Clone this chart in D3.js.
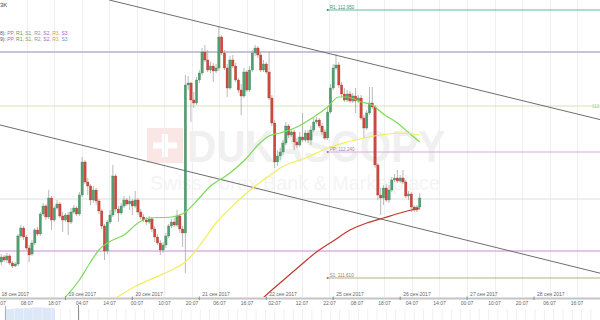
<!DOCTYPE html>
<html><head><meta charset="utf-8">
<script src="https://cdn.jsdelivr.net/npm/d3@7"></script>
<style>body{margin:0;background:#fff}svg{display:block;font-family:"Liberation Sans",Arial,sans-serif}</style>
</head><body><svg id="c" width="600" height="320"></svg>
<script>
// ---- data (hourly candles, hour index from 18 Sep 00:00, trading time) ----
const candleStartHour = 1;
const open = [111.690,111.715,111.700,111.720,111.685,111.670,111.680,111.820,111.860,111.815,
111.760,111.730,111.785,111.850,111.830,111.930,111.970,111.915,112.010,111.900,
111.960,111.980,111.920,111.900,111.925,111.890,111.940,111.960,111.930,112.025,
112.190,112.090,112.070,112.000,112.050,111.995,111.945,111.870,111.745,111.890,
111.925,112.120,111.955,111.935,111.970,112.000,111.980,111.995,111.970,112.000,
111.940,111.915,111.900,111.890,111.905,111.855,111.815,111.785,111.750,111.775,
111.820,111.870,111.890,111.875,111.920,111.855,111.835,112.575,112.585,112.500,
112.485,112.600,112.635,112.740,112.700,112.650,112.670,112.645,112.660,112.815,
112.735,112.660,112.560,112.700,112.670,112.600,112.550,112.520,112.640,112.550,
112.650,112.735,112.760,112.725,112.650,112.680,112.640,112.510,112.385,112.190,
112.220,112.240,112.285,112.370,112.325,112.340,112.290,112.275,112.315,112.300,
112.335,112.300,112.350,112.390,112.400,112.370,112.340,112.310,112.440,112.560,
112.660,112.675,112.575,112.530,112.500,112.530,112.495,112.520,112.495,112.510,
112.410,112.360,112.435,112.485,112.465,112.175,112.025,112.010,112.060,112.000,
112.050,112.100,112.110,112.095,112.110,112.090,112.020,112.030,111.965,111.950,111.965];
const close = [111.715,111.700,111.720,111.685,111.670,111.680,111.820,111.860,111.815,111.760,
111.725,111.785,111.850,111.830,111.930,111.970,111.915,112.010,111.900,111.960,
111.980,111.920,111.900,111.925,111.890,111.940,111.960,111.930,112.025,112.190,
112.090,112.070,112.000,112.050,111.995,111.945,111.870,111.745,111.890,111.925,
112.120,111.955,111.935,111.970,112.000,111.980,111.995,111.970,112.000,111.940,
111.915,111.900,111.890,111.905,111.855,111.815,111.785,111.750,111.775,111.820,
111.870,111.890,111.875,111.920,111.855,111.835,112.575,112.585,112.500,112.485,
112.600,112.635,112.740,112.700,112.650,112.670,112.645,112.660,112.815,112.735,
112.660,112.560,112.700,112.670,112.600,112.550,112.520,112.640,112.550,112.650,
112.735,112.760,112.725,112.650,112.680,112.640,112.510,112.385,112.190,112.220,
112.240,112.285,112.370,112.325,112.340,112.290,112.275,112.315,112.300,112.335,
112.300,112.350,112.390,112.400,112.370,112.340,112.310,112.440,112.560,112.660,
112.675,112.575,112.530,112.500,112.530,112.495,112.520,112.495,112.510,112.410,
112.360,112.435,112.485,112.465,112.175,112.025,112.010,112.060,112.000,112.050,
112.100,112.110,112.095,112.110,112.090,112.020,112.030,111.965,111.950,111.965,112.010];
const high = [111.730,111.725,111.735,111.730,111.695,111.690,111.830,111.875,111.870,111.825,
111.775,111.800,111.860,111.865,111.940,111.985,111.980,112.050,112.020,111.970,
112.000,111.990,111.940,111.935,111.940,111.960,111.975,111.970,112.040,112.215,
112.200,112.110,112.080,112.070,112.060,112.005,111.955,111.880,111.900,111.950,
112.175,112.130,111.970,111.985,112.020,112.010,112.020,112.005,112.045,112.010,
111.955,111.930,111.915,111.920,111.915,111.870,111.830,111.800,111.790,111.835,
111.880,111.905,111.910,111.950,111.930,111.870,112.625,112.620,112.590,112.540,
112.615,112.650,112.760,112.775,112.750,112.690,112.685,112.680,112.865,112.825,
112.750,112.680,112.720,112.725,112.685,112.610,112.580,112.660,112.650,112.670,
112.750,112.775,112.770,112.740,112.700,112.690,112.740,112.525,112.400,112.250,
112.260,112.300,112.390,112.380,112.355,112.350,112.310,112.340,112.435,112.350,
112.350,112.370,112.410,112.415,112.410,112.385,112.355,112.460,112.580,112.680,
112.730,112.690,112.590,112.560,112.550,112.545,112.535,112.560,112.525,112.525,
112.425,112.450,112.565,112.565,112.475,112.185,112.060,112.075,112.080,112.075,
112.115,112.130,112.150,112.125,112.150,112.100,112.045,112.040,111.975,111.975,112.035];
const low = [111.675,111.690,111.685,111.675,111.660,111.665,111.670,111.810,111.800,111.750,
111.690,111.720,111.775,111.820,111.820,111.920,111.900,111.905,111.850,111.890,
111.950,111.910,111.840,111.890,111.825,111.880,111.930,111.920,111.920,112.015,
112.080,112.025,111.975,111.985,111.975,111.930,111.855,111.700,111.730,111.880,
111.915,111.940,111.890,111.925,111.960,111.970,111.950,111.925,111.960,111.925,
111.900,111.890,111.875,111.880,111.840,111.790,111.775,111.725,111.735,111.760,
111.810,111.860,111.865,111.865,111.835,111.765,111.635,112.550,112.390,112.460,
112.475,112.585,112.625,112.690,112.640,112.635,112.590,112.635,112.645,112.725,
112.650,112.515,112.550,112.660,112.590,112.535,112.425,112.510,112.540,112.540,
112.640,112.720,112.710,112.640,112.640,112.630,112.500,112.370,112.160,112.170,
112.200,112.225,112.275,112.310,112.315,112.250,112.260,112.265,112.290,112.290,
112.285,112.275,112.340,112.380,112.360,112.325,112.300,112.300,112.430,112.550,
112.650,112.560,112.515,112.490,112.490,112.485,112.485,112.435,112.485,112.400,
112.310,112.350,112.425,112.455,112.160,112.000,111.925,111.975,111.990,111.985,
112.040,112.090,112.085,112.085,112.080,112.010,112.000,111.940,111.940,111.940,111.950];

const maGreenHours = [23,29,33,36,41,45,50,54,62,67,72,76,82,89,93,97,101,107,113,118,122,125,130,134,138,143,148,151];
const maGreenValues = [111.500,111.600,111.690,111.750,111.800,111.825,111.885,111.910,111.915,111.940,112.010,112.070,112.125,112.210,112.275,112.320,112.335,112.365,112.415,112.465,112.515,112.515,112.490,112.475,112.430,112.385,112.325,112.290];
const maYellowHours = [41,48,54,62,67,72,78,85,92,98,101,111,118,125,131,137,144,151];
const maYellowValues = [111.500,111.560,111.600,111.650,111.690,111.770,111.885,111.985,112.070,112.130,112.160,112.215,112.260,112.290,112.310,112.325,112.335,112.325];
const maRedHours = [94,98,103,108,114,120,126,132,138,144,151];
const maRedValues = [111.500,111.550,111.610,111.670,111.740,111.795,111.850,111.885,111.910,111.935,111.960];

const levelPrices = [112.950,112.740,112.470,112.240,112.005,111.745,111.610];
const levelNames  = ["R1","","","PP","","","S1"];
const levelStartHours = [118,0,0,118,0,0,118];

const channelUpperHours = [39.7,216], channelUpperPrices = [113.000,112.401];
const channelLowerHours = [0,216],    channelLowerPrices = [112.377,111.633];

const dateLabels = ["18 сен 2017","19 сен 2017","20 сен 2017","21 сен 2017","22 сен 2017","25 сен 2017","26 сен 2017","27 сен 2017","28 сен 2017"];
const timeLabels = ["22:07","08:07","18:07","04:07","14:07","00:07","10:07","20:07","06:07","16:07","02:07","12:07","22:07","08:07","18:07","04:07","14:07","00:07","10:07","20:07","06:07","16:07"];
const navValues = [0.70,0.74,0.76,0.78,0.77,0.80,0.83,0.85,0.84,0.82,0.80,0.78];

// ---- layout ----
const W=600, PH=297;
const svg=d3.select("#c");
const x=d3.scaleLinear().domain([0,216]).range([-1.5,601]);
const y=d3.scaleLinear().domain([111.515,113.0]).range([PH,0]);

svg.append("defs").append("clipPath").attr("id","pc").append("rect").attr("x",0).attr("y",0).attr("width",W).attr("height",PH);
const g=svg.append("g").attr("clip-path","url(#pc)");

// watermark
const wm=g.append("g");
wm.append("rect").attr("x",147).attr("y",128).attr("width",36).attr("height",35).attr("fill","#fbe6e6");
wm.append("rect").attr("x",162).attr("y",134).attr("width",6).attr("height",23).attr("fill","#fff");
wm.append("rect").attr("x",153).attr("y",142.5).attr("width",24).attr("height",6).attr("fill","#fff");
wm.append("text").attr("x",187).attr("y",162).attr("font-size",45).attr("font-weight","bold")
  .attr("textLength",258).attr("lengthAdjust","spacingAndGlyphs").attr("fill","#f0f0f0").text("DUKASCOPY");
wm.append("text").attr("x",150).attr("y",190).attr("font-size",21)
  .attr("textLength",290).attr("lengthAdjust","spacingAndGlyphs").attr("fill","#f4f4f4").text("Swiss Forex Bank & Marketplace");

// vertical grid
const tickStart=10.2, tickStep=9.86;
const timeHours=timeLabels.map((d,i)=>tickStart+tickStep*(i-1));
g.selectAll("line.vg").data(timeHours).join("line").attr("class","vg")
  .attr("x1",d=>Math.round(x(d))+0.5).attr("x2",d=>Math.round(x(d))+0.5).attr("y1",0).attr("y2",PH)
  .attr("stroke","#efefef").attr("stroke-width",1);

// levels
const levelColors=["#5fbf98","#c6c4dc","#cfe3bb","#dba8dc","#d6e3db","#ddb0e2","#bcb080"];
const levelWidths=[1,2,1.2,1.2,1.2,1.6,1.2];
levelPrices.forEach((p,i)=>{
  g.append("line").attr("x1",x(levelStartHours[i])).attr("x2",W).attr("y1",y(p)).attr("y2",y(p))
   .attr("stroke",levelColors[i]).attr("stroke-width",levelWidths[i]);
  if(levelNames[i]){
    g.append("circle").attr("cx",x(levelStartHours[i])).attr("cy",y(p)).attr("r",1).attr("fill",d3.color(levelColors[i]).darker(1));
    g.append("text").attr("x",x(levelStartHours[i])+2).attr("y",y(p)-0.6).attr("font-size",4.6)
     .attr("fill",d3.color(levelColors[i]).darker(0.8)).text(levelNames[i]+": "+p.toFixed(3));
  }
});
g.append("text").attr("x",592).attr("y",y(levelPrices[2])+1.5).attr("font-size",4.6).attr("fill","#b0c898").text(levelPrices[2].toFixed(3));

// candles
const candles=close.map((c,i)=>({h:candleStartHour+i,o:open[i],c:c,hi:high[i],lo:low[i]}));
g.selectAll("line.wick").data(candles).join("line").attr("class","wick")
  .attr("x1",d=>x(d.h)).attr("x2",d=>x(d.h)).attr("y1",d=>y(d.hi)).attr("y2",d=>y(d.lo))
  .attr("stroke","#a8a8a8").attr("stroke-width",0.8);
g.selectAll("rect.body").data(candles).join("rect").attr("class","body")
  .attr("x",d=>x(d.h)-1.2).attr("width",2.4)
  .attr("y",d=>y(Math.max(d.o,d.c))).attr("height",d=>Math.max(0.8,Math.abs(y(d.o)-y(d.c))))
  .attr("fill",d=>d.c>=d.o?"#529e71":"#cb4a3e")
  .attr("stroke",d=>d.c>=d.o?"#3f8a5c":"#b23a30").attr("stroke-width",0.3);

// channel lines
[[channelUpperHours,channelUpperPrices],[channelLowerHours,channelLowerPrices]].forEach(([hs,ps])=>{
  g.append("line").attr("x1",x(hs[0])).attr("y1",y(ps[0])).attr("x2",x(hs[1])).attr("y2",y(ps[1]))
   .attr("stroke","#6e6e6e").attr("stroke-width",1);
});

// moving averages
const line=d3.line().x(d=>x(d[0])).y(d=>y(d[1])).curve(d3.curveMonotoneX);
[[maGreenHours,maGreenValues,"#7ed957"],[maYellowHours,maYellowValues,"#f2ee5a"],[maRedHours,maRedValues,"#c0392f"]].forEach(([hs,vs,col])=>{
  g.append("path").attr("d",line(hs.map((h,i)=>[h,vs[i]]))).attr("fill","none").attr("stroke",col).attr("stroke-width",1.2);
});

// top-left texts
svg.append("text").attr("x",0).attr("y",7).attr("font-size",6).attr("fill","#444").text("3K");
const legendWords=["PP,","R1,","S1,","R2,","S2,","R3,","S3"];
const legendCols1=["#c15cc4","#3aa37a","#a39334","#8f8fb0","#a565be","#c4a35a","#b457c0"];
const legendCols2=["#c15cc4","#3aa37a","#a39334","#8f8fb0","#a565be","#c4a35a","#3fa5c0"];
[["8):",legendCols1,34.5],["9):",legendCols2,41]].forEach(([pre,cols,yy])=>{
  const t=svg.append("text").attr("x",0).attr("y",yy).attr("font-size",5).attr("fill","#555");
  t.append("tspan").text(pre+" ");
  legendWords.forEach((w,i)=>t.append("tspan").attr("fill",cols[i]).text(w+" "));
});

// axis
svg.append("line").attr("x1",0).attr("x2",W).attr("y1",298.5).attr("y2",298.5).attr("stroke","#c4c4c4").attr("stroke-width",2);
dateLabels.forEach((d,i)=>{
  const xx=x(i*24);
  svg.append("line").attr("x1",xx).attr("x2",xx).attr("y1",296.5).attr("y2",300).attr("stroke","#777").attr("stroke-width",0.8);
  svg.append("text").attr("x",xx+3).attr("y",295.5).attr("font-size",5).attr("fill","#666").text(d);
});
timeLabels.forEach((d,i)=>{
  svg.append("text").attr("x",x(timeHours[i])).attr("y",304.5).attr("font-size",5).attr("text-anchor","middle").attr("fill","#666").text(d);
});

// navigator
const nx=d3.scaleLinear().domain([0,navValues.length-1]).range([5,55]);
const ny=d3.scaleLinear().domain([0,1]).range([320,305]);
svg.append("path").attr("d",d3.area().x((d,i)=>nx(i)).y0(320).y1(d=>ny(d))(navValues)).attr("fill","#dce8f8");
for(let k=0;k<64;k++){
  svg.append("line").attr("x1",5+k*9.3).attr("x2",5+k*9.3).attr("y1",309).attr("y2",320).attr("stroke","#f0f0f0");
}
svg.append("line").attr("x1",5.5).attr("x2",5.5).attr("y1",306).attr("y2",320).attr("stroke","#b0b0b0");
svg.append("line").attr("x1",78.5).attr("x2",78.5).attr("y1",305).attr("y2",320).attr("stroke","#909090");
</script></body></html>
